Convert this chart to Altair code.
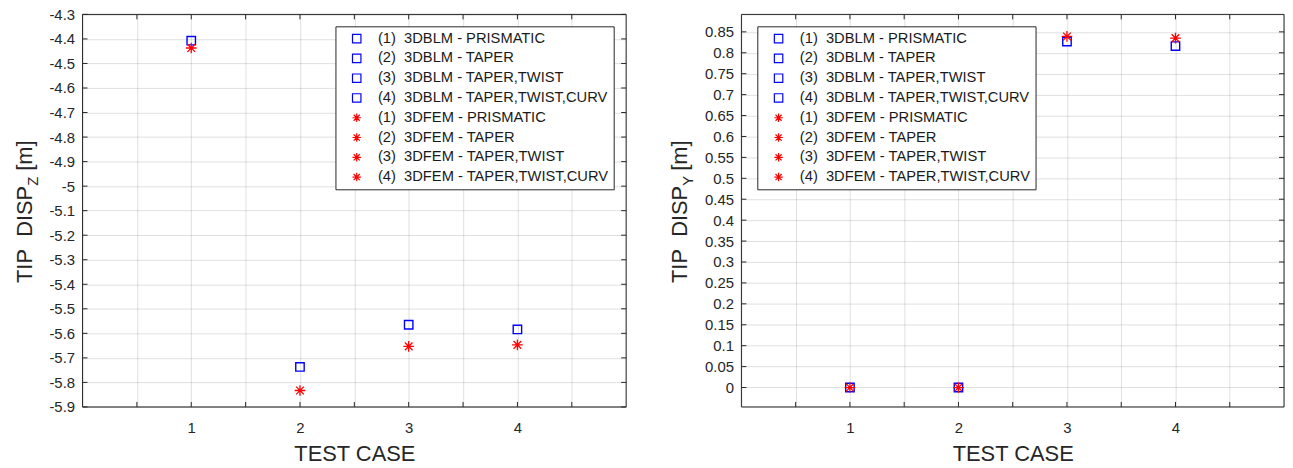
import altair as alt
import pandas as pd

# ---------------- data ----------------
CASES = [1, 2, 3, 4]
SERIES_BLM = [
    "(1)\u00a0\u00a03DBLM - PRISMATIC",
    "(2)\u00a0\u00a03DBLM - TAPER",
    "(3)\u00a0\u00a03DBLM - TAPER,TWIST",
    "(4)\u00a0\u00a03DBLM - TAPER,TWIST,CURV",
]
SERIES_FEM = [
    "(1)\u00a0\u00a03DFEM - PRISMATIC",
    "(2)\u00a0\u00a03DFEM - TAPER",
    "(3)\u00a0\u00a03DFEM - TAPER,TWIST",
    "(4)\u00a0\u00a03DFEM - TAPER,TWIST,CURV",
]
DISPZ_BLM = [-4.407, -5.737, -5.565, -5.584]
DISPZ_FEM = [-4.437, -5.833, -5.653, -5.647]
DISPY_BLM = [0.0, 0.0, 0.827, 0.816]
DISPY_FEM = [0.0, 0.0, 0.839, 0.835]

X_TICKS = [0.5, 1, 1.5, 2, 2.5, 3, 3.5, 4, 4.5]
Z_TICKS = [-4.3, -4.4, -4.5, -4.6, -4.7, -4.8, -4.9, -5, -5.1, -5.2, -5.3,
           -5.4, -5.5, -5.6, -5.7, -5.8, -5.9]
Y_TICKS = [0, 0.05, 0.1, 0.15, 0.2, 0.25, 0.3, 0.35, 0.4, 0.45, 0.5, 0.55,
           0.6, 0.65, 0.7, 0.75, 0.8, 0.85]
X_DOMAIN = [0, 5]
Z_DOMAIN = [-5.9, -4.3]
Y_DOMAIN = [-0.0464, 0.8917]

# ---------------- style ----------------
FONT = "Liberation Sans"
AX = "#262626"
BLUE = "#0000ff"
RED = "#ff0000"
ASTERISK = "M-1,0L1,0M0,-1L0,1M-0.72,-0.72L0.72,0.72M-0.72,0.72L0.72,-0.72"
H = 395
TICK = 5


def panel(blm, fem, yticks, ydomain, sub, W, legend_x, legend_y, title_base_x):
    domain = SERIES_BLM + SERIES_FEM
    df_blm = pd.DataFrame({"case": CASES, "value": blm, "series": SERIES_BLM})
    df_fem = pd.DataFrame({"case": CASES, "value": fem, "series": SERIES_FEM})
    xscale = alt.Scale(domain=X_DOMAIN, nice=False, zero=False)
    yscale = alt.Scale(domain=ydomain, nice=False, zero=False)

    legend = alt.Legend(
        title=None, orient="none", legendX=legend_x, legendY=legend_y,
        strokeColor=AX, fillColor="white", padding=5, cornerRadius=0,
        labelFont=FONT, labelFontSize=14.8, labelColor="#1a1a1a",
        labelLimit=400, symbolSize=72, symbolStrokeWidth=1.2,
        rowPadding=3.9, symbolOffset=9, labelOffset=14,
    )
    color = alt.Color("series:N", scale=alt.Scale(domain=domain, range=[BLUE] * 4 + [RED] * 4), legend=legend)
    shape = alt.Shape("series:N", scale=alt.Scale(domain=domain, range=["square"] * 4 + [ASTERISK] * 4), legend=legend)

    xaxis = alt.Axis(
        values=X_TICKS, grid=True, gridColor=AX, gridOpacity=0.15, ticks=False, domain=False,
        labelExpr="datum.value % 1 == 0 ? '' + datum.value : ''",
        labelFont=FONT, labelFontSize=15, labelColor=AX, labelPadding=14,
        title="TEST CASE", titleFont=FONT, titleFontSize=22, titleFontWeight="normal",
        titleColor=AX, titlePadding=8,
    )
    yaxis = alt.Axis(
        values=yticks, grid=True, gridColor=AX, gridOpacity=0.15, ticks=False, domain=False,
        labelExpr="'' + datum.value", labelFont=FONT, labelFontSize=15,
        labelColor=AX, labelPadding=8, title="",
    )

    X = lambda f: alt.X(f, scale=xscale, axis=xaxis)
    Y = lambda f: alt.Y(f, scale=yscale, axis=yaxis)

    pts_blm = alt.Chart(df_blm).mark_point(filled=False, size=72, strokeWidth=1.4, opacity=1).encode(
        x=X("case:Q"), y=Y("value:Q"), color=color, shape=shape,
    )
    pts_fem = alt.Chart(df_fem).mark_point(filled=False, size=115, strokeWidth=1.3, opacity=1).encode(
        x=X("case:Q"), y=Y("value:Q"), color=color, shape=shape,
    )

    xt = pd.DataFrame({"case": X_TICKS})
    yt = pd.DataFrame({"value": yticks})
    tick_b = alt.Chart(xt).mark_rule(color=AX, strokeWidth=1).encode(
        x=X("case:Q"), y=alt.value(H), y2=alt.value(H - TICK))
    tick_t = alt.Chart(xt).mark_rule(color=AX, strokeWidth=1).encode(
        x=X("case:Q"), y=alt.value(0), y2=alt.value(TICK))
    tick_l = alt.Chart(yt).mark_rule(color=AX, strokeWidth=1).encode(
        y=Y("value:Q"), x=alt.value(0), x2=alt.value(TICK))
    tick_r = alt.Chart(yt).mark_rule(color=AX, strokeWidth=1).encode(
        y=Y("value:Q"), x=alt.value(W), x2=alt.value(W - TICK))

    one = pd.DataFrame({"k": [0]})
    border = alt.Chart(one).mark_rect(fillOpacity=0, stroke=AX, strokeWidth=1).encode(
        x=alt.value(0), x2=alt.value(W), y=alt.value(0), y2=alt.value(H))

    # y-axis title with subscript, drawn as rotated text pieces
    w_main, w_sub, w_gap, w_tail = 97.8, 9.2, 6, 30.6
    y0 = H / 2 + (w_main + w_sub + w_gap + w_tail) / 2 + 1
    tmain = alt.Chart(one).mark_text(angle=270, align="left", baseline="alphabetic", font=FONT,
                                     fontSize=22, color=AX).encode(
        x=alt.value(title_base_x), y=alt.value(y0), text=alt.value("TIP\u00a0\u00a0DISP"))
    tsub = alt.Chart(one).mark_text(angle=270, align="left", baseline="alphabetic", font=FONT,
                                    fontSize=15, color=AX).encode(
        x=alt.value(title_base_x + 6), y=alt.value(y0 - w_main), text=alt.value(sub))
    ttail = alt.Chart(one).mark_text(angle=270, align="left", baseline="alphabetic", font=FONT,
                                     fontSize=22, color=AX).encode(
        x=alt.value(title_base_x), y=alt.value(y0 - w_main - w_sub - w_gap), text=alt.value("[m]"))

    return alt.layer(pts_blm, pts_fem, tick_b, tick_t, tick_l, tick_r, border,
                     tmain, tsub, ttail).properties(width=W, height=H)


left = panel(DISPZ_BLM, DISPZ_FEM, Z_TICKS, Z_DOMAIN, "Z", 547, 254.5, 12, -51)
right = panel(DISPY_BLM, DISPY_FEM, Y_TICKS, Y_DOMAIN, "Y", 546, 16, 12, -55)

chart = alt.hconcat(left, right, spacing=116, bounds="flush").resolve_scale(
    color="independent", shape="independent", x="independent", y="independent"
).properties(
    padding={"left": 5, "top": -3, "right": 0, "bottom": 0}
).configure_view(stroke="transparent").configure(font=FONT)

chart.save("out.html", embed_options={"renderer": "svg", "actions": False})
